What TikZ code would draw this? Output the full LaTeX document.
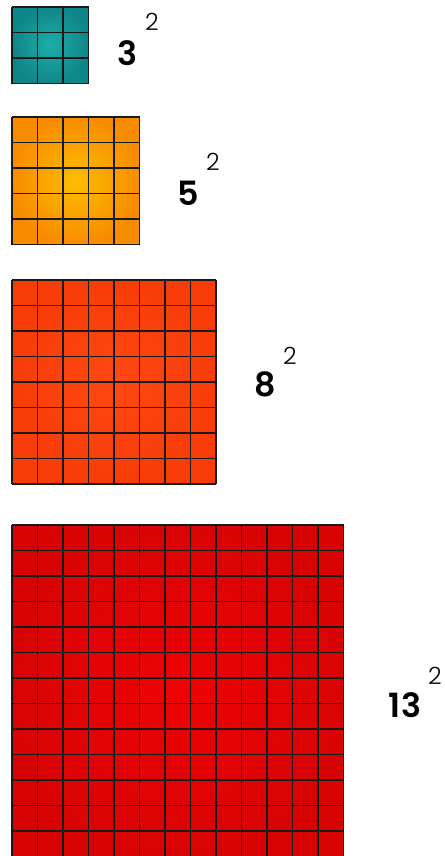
\documentclass[tikz,border=0pt]{standalone}
\usepackage{fontspec}
\setmainfont{Poppins}
\newfontfamily\lightnum{Poppins}[UprightFont=* Light]
\newfontfamily\basenum{Poppins}[UprightFont=* SemiBold]

\definecolor{tealin}{HTML}{1DAEA8}
\definecolor{tealout}{HTML}{0F8687}
\definecolor{orin}{HTML}{FDBE00}
\definecolor{orout}{HTML}{F88C00}
\definecolor{rorin}{HTML}{FF4813}
\definecolor{rorout}{HTML}{F73C08}
\definecolor{redin}{HTML}{EE0303}
\definecolor{redout}{HTML}{D80404}

\begin{document}
\begin{tikzpicture}[x=0.02cm,y=-0.02cm,
  cellgrid/.style={draw=black!90,line width=0.75pt},
  base/.style={inner sep=0pt,anchor=center,font=\basenum\fontsize{19}{19}\selectfont},
  expo/.style={inner sep=0pt,anchor=center,font=\lightnum\fontsize{13.5}{13.5}\selectfont}]
\useasboundingbox (0,0) rectangle (444,856);
\begin{scope}
\clip (0,0) rectangle (444,856);
% squares of side n, cell 25.5
\foreach \n/\top/\cin/\cout in {3/7/tealin/tealout,5/117/orin/orout,
                                8/280/rorin/rorout,13/525/redin/redout}{
  \shade[inner color=\cin,outer color=\cout] (12,\top) rectangle ++(25.5*\n,25.5*\n);
  \foreach \k in {0,...,\n}{
    \draw[cellgrid] (12+25.5*\k,\top) -- ++(0,25.5*\n);
    \draw[cellgrid] (12,\top+25.5*\k) -- ++(25.5*\n,0);
  }
}
\end{scope}
\node[base] (b3) at (127,53) {3};
\node[expo] (e3) at (152,22) {2};
\node[base] (b5) at (188,193) {5};
\node[expo] (e5) at (213,162) {2};
\node[base] (b8) at (265,384) {8};
\node[expo] (e8) at (290,356) {2};
\node[base] (b13) at (405,705) {13};
\node[expo] (e13) at (435,676) {2};
\end{tikzpicture}
\end{document}
